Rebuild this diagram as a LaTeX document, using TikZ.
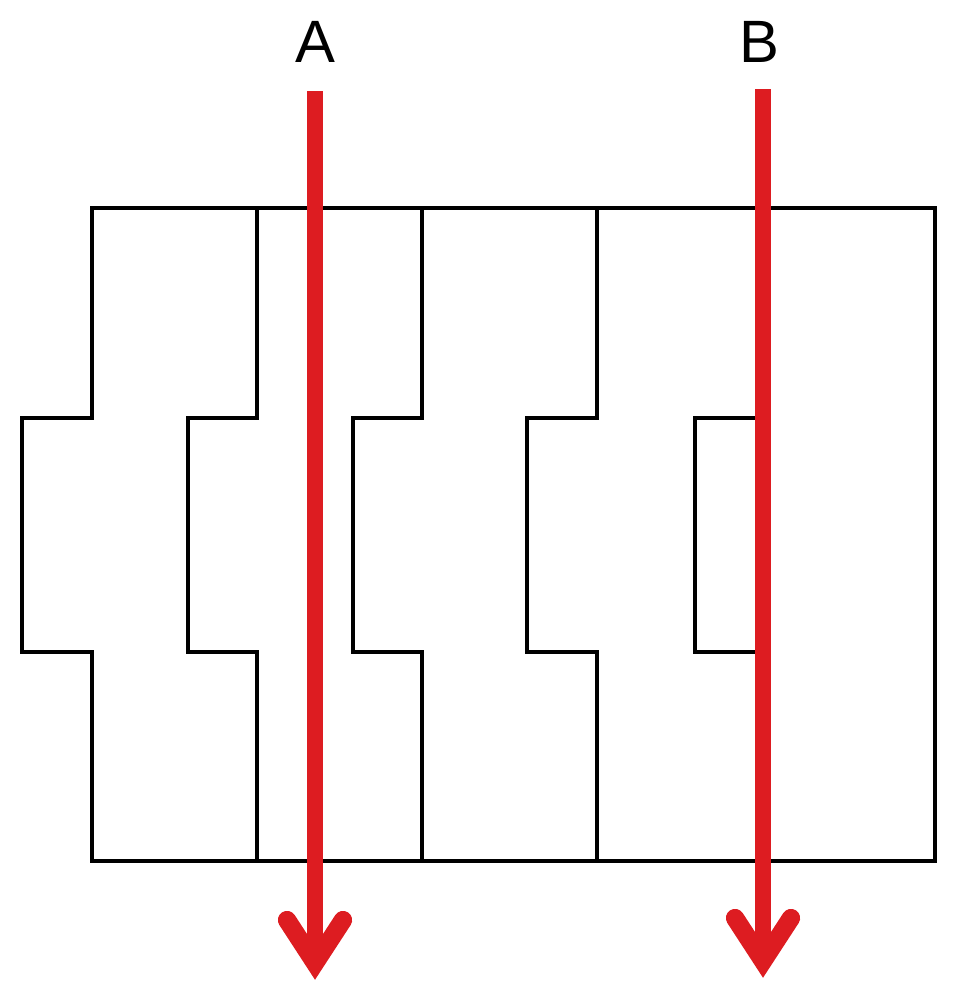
\documentclass[tikz,border=0pt]{standalone}
\usepackage{fontspec}
\setmainfont{Liberation Sans}
\usetikzlibrary{calc}
\definecolor{rayred}{RGB}{221,28,33}

\begin{document}
\begin{tikzpicture}[x=0.01cm,y=-0.01cm,
                    wall/.style={draw=black,line width=1.15pt,line cap=rect},
                    ray/.style={draw=rayred,line width=4.5pt},
                    raytip/.style={ray,line width=5.2pt,line cap=round,line join=miter}]
  \tikzstyle{lbl}=[inner sep=0pt,font=\fontsize{17}{20}\selectfont]
  \useasboundingbox (0,0) rectangle (956,1000);

  % outline of the pieces
  \draw[wall] (92,208) -- (935,208) -- (935,861) -- (92,861);
  \foreach \x/\d in {92/70, 257/69, 422/69, 597/70}
    \draw[wall] (\x,208) -- (\x,418) -- (\x-\d,418) -- (\x-\d,652)
                -- (\x,652) -- (\x,861);
  \draw[wall] (763,418) -- (695,418) -- (695,652) -- (763,652);

  \node[lbl] (A) at (315,42) {A};
  \node[lbl] (B) at (759,42) {B};

  \coordinate (A-top) at (315,91);
  \coordinate (A-tip) at (315,963);
  \coordinate (B-top) at (763,89);
  \coordinate (B-tip) at (763,961);

  % the two paths
  \draw[ray] (A-top) -- (A-tip);
  \draw[raytip] ($(A-tip)+(-28,-43)$) -- (A-tip) -- ++(28,-43);
  \draw[ray] (B-top) -- (B-tip);
  \draw[raytip] ($(B-tip)+(-28,-43)$) -- (B-tip) -- ++(28,-43);
\end{tikzpicture}
\end{document}
